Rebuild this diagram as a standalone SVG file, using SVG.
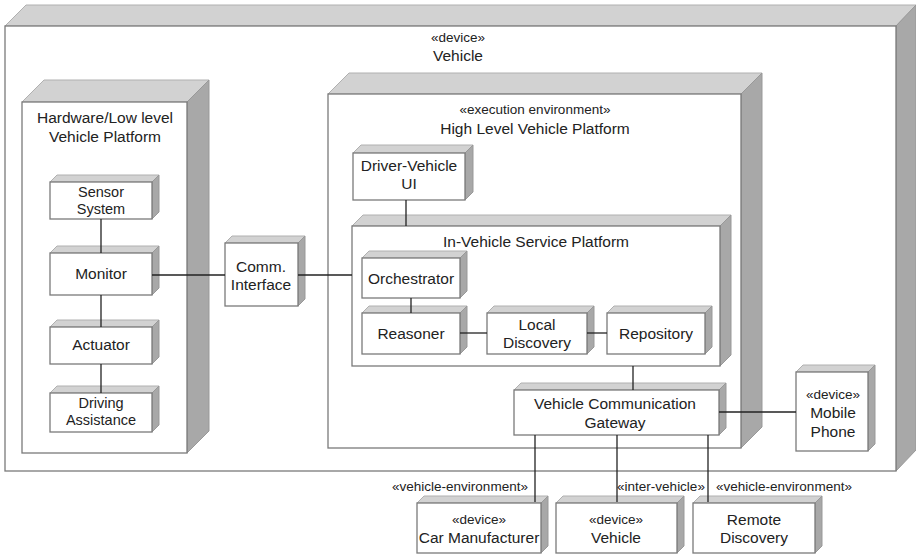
<svg xmlns="http://www.w3.org/2000/svg" width="916" height="556" viewBox="0 0 916 556">
<style>
.top{fill:#d2d2d2;stroke:#b0b0b0;stroke-width:1}
.side{fill:#a8a8a8;stroke:#999;stroke-width:1}
.front{fill:#fff;stroke:#7a7a7a;stroke-width:1.3}
.t{font-family:"Liberation Sans",Arial,sans-serif;font-size:15.5px;fill:#222;text-anchor:middle}
.tt{font-family:"Liberation Sans",Arial,sans-serif;font-size:14.5px;fill:#222;text-anchor:middle}
.s{font-family:"Liberation Sans",Arial,sans-serif;font-size:13.5px;fill:#222;text-anchor:middle}
.c{stroke:#222;stroke-width:1.3;fill:none}
</style>
<rect width="916" height="556" fill="#fff"/>
<g id="vehicle-device">
<polygon class="top" points="5,26 26,5 916,5 896,26"/>
<polygon class="side" points="896,26 916,5 916,450 896,471"/>
<rect class="front" x="5" y="26" width="891" height="445"/>
<text class="s" x="458" y="42">«device»</text>
<text class="t" x="458" y="61">Vehicle</text>
</g>
<g id="hardware-platform">
<polygon class="top" points="22,102 44,80 209,80 187,102"/>
<polygon class="side" points="187,102 209,80 209,431 187,453"/>
<rect class="front" x="22" y="102" width="165" height="351"/>
<text class="t" x="105" y="123">Hardware/Low level</text>
<text class="t" x="105" y="142">Vehicle Platform</text>
</g>
<g id="high-level-platform">
<polygon class="top" points="328,94 349,73 762,73 741,94"/>
<polygon class="side" points="741,94 762,73 762,427 741,448"/>
<rect class="front" x="328" y="94" width="413" height="354"/>
<text class="s" x="535" y="114">«execution environment»</text>
<text class="t" x="535" y="134">High Level Vehicle Platform</text>
</g>
<g id="sensor-system">
<polygon class="top" points="50,182 57,175 159,175 152,182"/>
<polygon class="side" points="152,182 159,175 159,212 152,219"/>
<rect class="front" x="50" y="182" width="102" height="37"/>
<text class="tt" x="101" y="197">Sensor</text>
<text class="tt" x="101" y="214">System</text>
</g>
<g id="monitor">
<polygon class="top" points="50,253 57,246 159,246 152,253"/>
<polygon class="side" points="152,253 159,246 159,288 152,295"/>
<rect class="front" x="50" y="253" width="102" height="42"/>
<text class="t" x="101" y="279">Monitor</text>
</g>
<g id="actuator">
<polygon class="top" points="50,327 57,320 159,320 152,327"/>
<polygon class="side" points="152,327 159,320 159,357 152,364"/>
<rect class="front" x="50" y="327" width="102" height="37"/>
<text class="t" x="101" y="350">Actuator</text>
</g>
<g id="driving-assistance">
<polygon class="top" points="50,393 57,386 159,386 152,393"/>
<polygon class="side" points="152,393 159,386 159,425 152,432"/>
<rect class="front" x="50" y="393" width="102" height="39"/>
<text class="tt" x="101" y="408">Driving</text>
<text class="tt" x="101" y="425">Assistance</text>
</g>
<g id="comm-interface">
<polygon class="top" points="225,243 232,236 305,236 298,243"/>
<polygon class="side" points="298,243 305,236 305,299 298,306"/>
<rect class="front" x="225" y="243" width="73" height="63"/>
<text class="t" x="261" y="272">Comm.</text>
<text class="t" x="261" y="290">Interface</text>
</g>
<g id="driver-vehicle-ui">
<polygon class="top" points="353,153 361,145 473,145 465,153"/>
<polygon class="side" points="465,153 473,145 473,192 465,200"/>
<rect class="front" x="353" y="153" width="112" height="47"/>
<text class="t" x="409" y="171">Driver-Vehicle</text>
<text class="t" x="409" y="189">UI</text>
</g>
<g id="in-vehicle-service-platform">
<polygon class="top" points="352,226 363,215 731,215 720,226"/>
<polygon class="side" points="720,226 731,215 731,355 720,366"/>
<rect class="front" x="352" y="226" width="368" height="140"/>
<text class="t" x="536" y="247">In-Vehicle Service Platform</text>
</g>
<g id="orchestrator">
<polygon class="top" points="362,258 369,251 467,251 460,258"/>
<polygon class="side" points="460,258 467,251 467,291 460,298"/>
<rect class="front" x="362" y="258" width="98" height="40"/>
<text class="t" x="411" y="284">Orchestrator</text>
</g>
<g id="reasoner">
<polygon class="top" points="362,313 369,306 467,306 460,313"/>
<polygon class="side" points="460,313 467,306 467,347 460,354"/>
<rect class="front" x="362" y="313" width="98" height="41"/>
<text class="t" x="411" y="339">Reasoner</text>
</g>
<g id="local-discovery">
<polygon class="top" points="487,313 494,306 594,306 587,313"/>
<polygon class="side" points="587,313 594,306 594,347 587,354"/>
<rect class="front" x="487" y="313" width="100" height="41"/>
<text class="t" x="537" y="330">Local</text>
<text class="t" x="537" y="348">Discovery</text>
</g>
<g id="repository">
<polygon class="top" points="607,313 614,306 712,306 705,313"/>
<polygon class="side" points="705,313 712,306 712,347 705,354"/>
<rect class="front" x="607" y="313" width="98" height="41"/>
<text class="t" x="656" y="339">Repository</text>
</g>
<g id="vehicle-communication-gateway">
<polygon class="top" points="514,390 521,383 726,383 719,390"/>
<polygon class="side" points="719,390 726,383 726,428 719,435"/>
<rect class="front" x="514" y="390" width="205" height="45"/>
<text class="t" x="615" y="409">Vehicle Communication</text>
<text class="t" x="615" y="428">Gateway</text>
</g>
<g id="mobile-phone">
<polygon class="top" points="796,372 803,365 875,365 868,372"/>
<polygon class="side" points="868,372 875,365 875,444 868,451"/>
<rect class="front" x="796" y="372" width="72" height="79"/>
<text class="s" x="833" y="399">«device»</text>
<text class="t" x="833" y="418">Mobile</text>
<text class="t" x="833" y="437">Phone</text>
</g>
<g id="car-manufacturer">
<polygon class="top" points="417,503 424,496 548,496 541,503"/>
<polygon class="side" points="541,503 548,496 548,546 541,553"/>
<rect class="front" x="417" y="503" width="124" height="50"/>
<text class="s" x="479" y="524">«device»</text>
<text class="t" x="479" y="543">Car Manufacturer</text>
</g>
<g id="remote-vehicle">
<polygon class="top" points="556,503 563,496 684,496 677,503"/>
<polygon class="side" points="677,503 684,496 684,546 677,553"/>
<rect class="front" x="556" y="503" width="121" height="50"/>
<text class="s" x="616" y="524">«device»</text>
<text class="t" x="616" y="543">Vehicle</text>
</g>
<g id="remote-discovery">
<polygon class="top" points="693,503 700,496 822,496 815,503"/>
<polygon class="side" points="815,503 822,496 822,546 815,553"/>
<rect class="front" x="693" y="503" width="122" height="50"/>
<text class="t" x="754" y="525">Remote</text>
<text class="t" x="754" y="543">Discovery</text>
</g>
<g id="connectors">
<line class="c" x1="101" y1="219" x2="101" y2="253"/>
<line class="c" x1="101" y1="295" x2="101" y2="327"/>
<line class="c" x1="101" y1="364" x2="101" y2="393"/>
<line class="c" x1="152" y1="275" x2="225" y2="275"/>
<line class="c" x1="298" y1="275" x2="352" y2="275"/>
<line class="c" x1="406" y1="200" x2="406" y2="226"/>
<line class="c" x1="411" y1="298" x2="411" y2="313"/>
<line class="c" x1="460" y1="333" x2="487" y2="333"/>
<line class="c" x1="587" y1="333" x2="607" y2="333"/>
<line class="c" x1="633" y1="366" x2="633" y2="390"/>
<line class="c" x1="719" y1="412" x2="796" y2="412"/>
<line class="c" x1="535" y1="435" x2="535" y2="502"/>
<line class="c" x1="617" y1="435" x2="617" y2="502"/>
<line class="c" x1="708" y1="435" x2="708" y2="502"/>
<text class="s" x="460" y="491">«vehicle-environment»</text>
<text class="s" x="661" y="491">«inter-vehicle»</text>
<text class="s" x="784" y="491">«vehicle-environment»</text>
</g>
</svg>
